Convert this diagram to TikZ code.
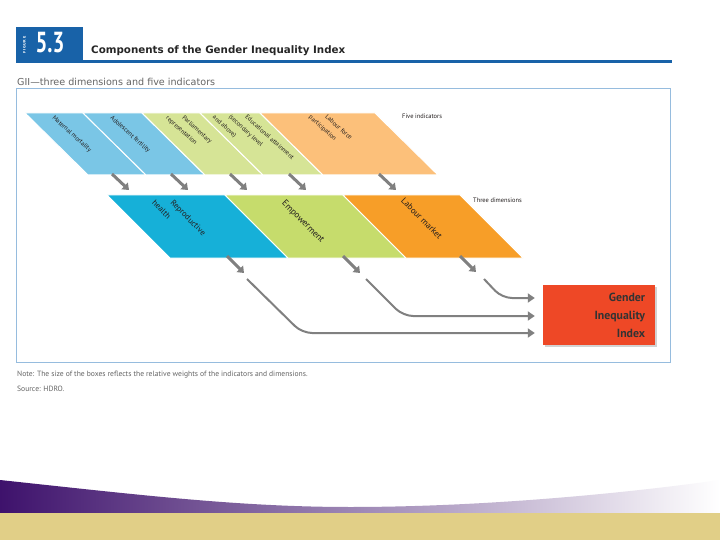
\documentclass[tikz,border=0pt]{standalone}
\usepackage{fontspec}
\setmainfont{PT Sans}
\newfontfamily\headfont{DejaVu Sans}
\usetikzlibrary{arrows.meta}
\usetikzlibrary{shadows}

\definecolor{headblue}{RGB}{24,98,168}
\definecolor{frameblue}{RGB}{150,188,222}
\definecolor{topblue}{RGB}{122,198,230}
\definecolor{topgreen}{RGB}{214,228,150}
\definecolor{toporange}{RGB}{252,192,122}
\definecolor{midblue}{RGB}{22,176,216}
\definecolor{midgreen}{RGB}{198,220,108}
\definecolor{midorange}{RGB}{247,158,40}
\definecolor{giired}{RGB}{238,72,38}
\definecolor{arrowgray}{RGB}{128,128,128}
\definecolor{labtext}{RGB}{35,30,30}
\definecolor{notegray}{RGB}{100,100,100}
\definecolor{wavepurple}{RGB}{62,18,108}
\definecolor{wavemid}{RGB}{150,118,182}
\definecolor{tanband}{RGB}{225,207,135}

\begin{document}
\begin{tikzpicture}[x=1pt,y=-1pt,
	lab/.style={inner sep=0pt,anchor=north west,rotate=-42,align=left,text=labtext,font=\fontsize{6.3}{11}\selectfont},
	dimlab/.style={inner sep=0pt,anchor=north west,rotate=-45,align=left,text=labtext,font=\fontsize{8.7}{13}\selectfont},
	side/.style={inner sep=0pt,anchor=west,text=labtext,font=\fontsize{6.4}{7}\selectfont},
	slab/.style={draw=white,line width=1pt},
	drop/.style={draw=arrowgray,line width=3pt,-{Triangle[length=6pt,width=9pt]}},
	feed/.style={draw=arrowgray,line width=2pt,rounded corners=10pt,shorten >=8pt,-{Triangle[length=7pt,width=9pt]}}]
	
	\fill[white] (0,0) rectangle (720,540);
	\useasboundingbox (0,0) rectangle (720,540);
	
	\fill[headblue] (16,27) rectangle (83,63.5);
	\fill[headblue] (16,60.5) rectangle (672,63.5);
	\node[text=white,font=\headfont\bfseries\fontsize{3.4}{4}\selectfont,rotate=90,inner sep=0pt] (figword) at (24.5,45) {F\,I\,G\,U\,R\,E};
	\node[text=white,font=\bfseries\fontsize{29}{29}\selectfont,inner sep=0pt] (fignum) at (50,43) {\scalebox{0.72}[1]{5.3}};
	\node[anchor=base west,inner sep=0pt,text=black!85,font=\headfont\bfseries\fontsize{10.3}{12}\selectfont] (title) at (91,54) {Components of the Gender Inequality Index};
	\node[anchor=base west,inner sep=0pt,text=notegray,font=\headfont\fontsize{9.6}{11}\selectfont] (subtitle) at (17,86) {GII—three dimensions and five indicators};
	
	\fill[topblue,slab] (25,113) -- (83,113) -- (146,175) -- (88,175) -- cycle;
	\fill[topblue,slab] (83,113) -- (142,113) -- (205,175) -- (146,175) -- cycle;
	\fill[topgreen,slab] (142,113) -- (200,113) -- (263,175) -- (205,175) -- cycle;
	\fill[topgreen,slab] (200,113) -- (260,113) -- (323,175) -- (263,175) -- cycle;
	\fill[toporange,slab] (260,113) -- (375,113) -- (438,175) -- (323,175) -- cycle;
	
	\node[lab] (mm) at (55,115) {Maternal mortality};
	\node[lab] (af) at (113,115) {Adolescent fertility};
	\node[lab] (parl) at (176,107) {\hspace*{12pt}Parliamentary\\representation};
	\node[lab] (edu) at (230,98) {\hspace*{24pt}Educational attainment\\\hspace*{12pt}(secondary level\\and above)};
	\node[lab] (lfp) at (319,106) {\hspace*{12pt}Labour force\\participation};
	\node[side] (five) at (402,116) {Five indicators};
	
	\fill[midblue,slab] (107,195) -- (225,195) -- (288,258) -- (170,258) -- cycle;
	\fill[midgreen,slab] (225,195) -- (343,195) -- (406,258) -- (288,258) -- cycle;
	\fill[midorange,slab] (343,195) -- (460,195) -- (523,258) -- (406,258) -- cycle;
	
	\node[dimlab,font=\fontsize{8.2}{13}\selectfont] (rh) at (165,190) {\hspace*{13pt}Reproductive\\health};
	\node[dimlab,font=\fontsize{9}{10}\selectfont] (emp) at (286,199) {Empowerment};
	\node[dimlab] (lm) at (405,197) {Labour market};
	\node[side] (three) at (473,200) {Three dimensions};
	
	\coordinate (d1a) at (112,174);
	\coordinate (d1b) at (129,190);
	\coordinate (d2a) at (171,174);
	\coordinate (d2b) at (188,190);
	\coordinate (d3a) at (230,174);
	\coordinate (d3b) at (247,190);
	\coordinate (d4a) at (289,174);
	\coordinate (d4b) at (306,190);
	\coordinate (d5a) at (379,174);
	\coordinate (d5b) at (396,190);
	\draw[drop] (d1a) -- (d1b);
	\draw[drop] (d2a) -- (d2b);
	\draw[drop] (d3a) -- (d3b);
	\draw[drop] (d4a) -- (d4b);
	\draw[drop] (d5a) -- (d5b);
	
	\coordinate (u1a) at (227,256);
	\coordinate (u1b) at (244,273);
	\coordinate (u2a) at (343,256);
	\coordinate (u2b) at (360,273);
	\coordinate (u3a) at (460,256);
	\coordinate (u3b) at (476,272);
	\draw[drop] (u1a) -- (u1b);
	\draw[drop] (u2a) -- (u2b);
	\draw[drop] (u3a) -- (u3b);
	
	\node[fill=giired,minimum height=60pt,text width=92pt,inner xsep=10pt,align=right,
		text=black!80,font=\bfseries\fontsize{11.8}{18}\selectfont,
		drop shadow={shadow xshift=1.5pt,shadow yshift=-1.5pt,opacity=0.35}] (gii) at (599,315) {Gender\\Inequality\\Index};
	
	\coordinate (h1) at (247,279);
	\coordinate (h2) at (302,333);
	\coordinate (e1) at (366,279);
	\coordinate (e2) at (403,316);
	\coordinate (l1) at (484,279);
	\coordinate (l2) at (502,298);
	\draw[feed] (h1) -- (h2) -- (gii.west |- h2);
	\draw[feed] (e1) -- (e2) -- (gii.west |- e2);
	\draw[feed] (l1) -- (l2) -- (gii.west |- l2);
	
	\draw[frameblue,line width=1pt] (16,89) rectangle (670,362);
	
	\node[anchor=base west,inner sep=0pt,text=notegray,font=\fontsize{7.6}{9}\selectfont] (note) at (17,376) {Note: The size of the boxes reflects the relative weights of the indicators and dimensions.};
	\node[anchor=base west,inner sep=0pt,text=notegray,font=\fontsize{7.6}{9}\selectfont] (source) at (17,391) {Source: HDRO.};
	
	\shade[left color=wavepurple,middle color=wavemid,right color=white]
		(0,480) .. controls (140,495) and (240,507) .. (350,507)
		.. controls (480,507) and (620,494) .. (720,480) -- (720,514) -- (0,514) -- cycle;
	\fill[tanband] (0,513) rectangle (720,540);
	
\end{tikzpicture}
\end{document}
